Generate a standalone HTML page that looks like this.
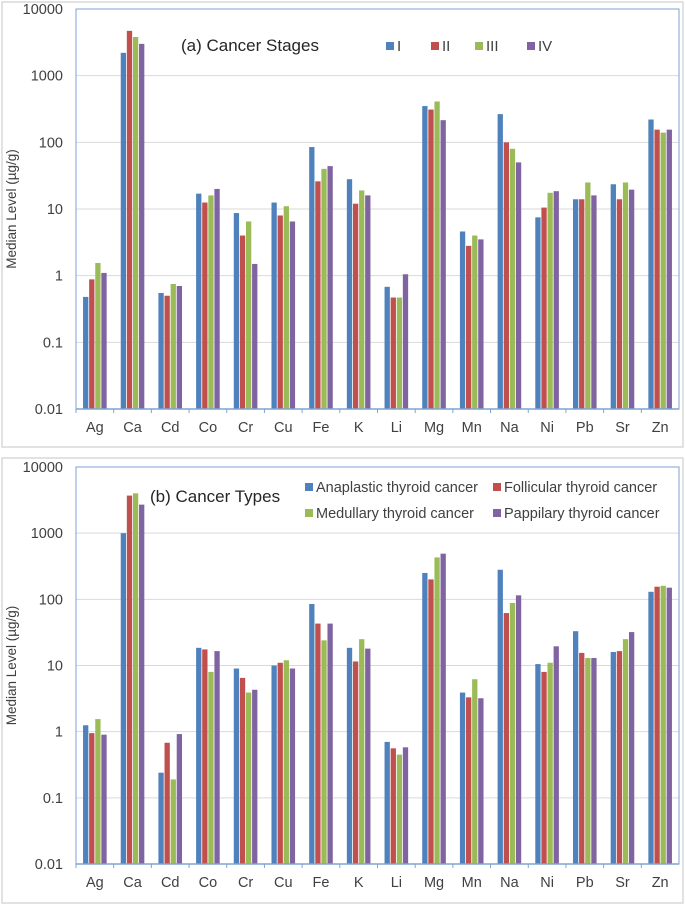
<!DOCTYPE html>
<html><head><meta charset="utf-8"><style>
html,body{margin:0;padding:0;background:#fff;}
svg{display:block;font-family:"Liberation Sans",Arial,sans-serif;}
</style></head><body>
<svg id="chart" width="685" height="905" viewBox="0 0 685 905" xmlns="http://www.w3.org/2000/svg"></svg>
<script>
const categories = ["Ag","Ca","Cd","Co","Cr","Cu","Fe","K","Li","Mg","Mn","Na","Ni","Pb","Sr","Zn"];
const yTicks = [0.01,0.1,1,10,100,1000,10000];
const yTickLabels = ["0.01","0.1","1","10","100","1000","10000"];
const stageNames = ["I","II","III","IV"];
const stageI   = [0.48,2200,0.55,17,8.7,12.5,85,28,0.68,350,4.6,265,7.5,14,23.5,220];
const stageII  = [0.88,4700,0.5,12.5,4,8,26,12,0.47,310,2.8,100,10.5,14,14,155];
const stageIII = [1.55,3800,0.75,16,6.5,11,40,19,0.47,410,4,80,17.5,25,25,140];
const stageIV  = [1.1,3000,0.7,20,1.5,6.5,44,16,1.05,215,3.5,50,18.5,16,19.5,155];
const typeNames = ["Anaplastic thyroid cancer","Follicular thyroid cancer","Medullary thyroid cancer","Pappilary thyroid cancer"];
const anaplastic = [1.25,1000,0.24,18.5,9,10,85,18.5,0.7,250,3.9,280,10.5,33,16,130];
const follicular = [0.95,3700,0.68,17.5,6.5,11,43,11.5,0.56,200,3.3,62,8,15.5,16.5,155];
const medullary  = [1.55,4000,0.19,8,3.9,12,24,25,0.45,430,6.2,88,11,13,25,160];
const papillary  = [0.9,2700,0.92,16.5,4.3,9,43,18,0.58,490,3.2,115,19.5,13,32,150];
const colors = ["#4f81bd","#c0504d","#9bbb59","#8064a2"];

const svg = document.getElementById('chart');
const NS = "http://www.w3.org/2000/svg";
function mk(tag, attrs, parent){const e=document.createElementNS(NS,tag);for(const k in attrs)e.setAttribute(k,attrs[k]);(parent||svg).appendChild(e);return e;}

function panel(p){
  const g = mk('g',{});
  
  
  const frame = mk('rect',{x:p.fx,y:p.fy,width:p.fw,height:p.fh,fill:'#fff',stroke:'#d9d9d9','stroke-width':1.5},g);
  
  
  const L=76, R=679, T=p.top, B=p.bot;
  const yScale = v => B - (Math.log10(v)+2)/6*(B-T);
  const bw = (R-L)/categories.length;
  // gridlines + tick labels
  yTicks.forEach((t,i)=>{
    const y=yScale(t);
    if(i>0 && i<yTicks.length-1){
      const gl=mk('line',{x1:L,x2:R,y1:y,y2:y,stroke:'#d9d9d9','stroke-width':1},g);
      
      
    }
    const tx=mk('text',{x:63,y:y+5,'text-anchor':'end','font-size':14.5,fill:'#404040'},g);
    tx.textContent=yTickLabels[i];
    
    
  });
  const ax=mk('text',{transform:`translate(16,${(T+B)/2}) rotate(-90)`,'text-anchor':'middle','font-size':13.5,fill:'#404040'},g);
  ax.textContent='Median Level  (µg/g)';
  
  
  // bars
  const barW=5.3, gap=0.8;
  p.series.forEach((s,si)=>{
    s.forEach((v,ci)=>{
      const cx=L+bw*(ci+0.5);
      const x=cx-2*(barW+gap)+gap/2+si*(barW+gap);
      const y=yScale(v);
      const r=mk('rect',{x:x,y:y,width:barW,height:B-y,fill:colors[si]},g);
      
      
    });
  });
  // plot border
  const pb=mk('rect',{x:L,y:T,width:R-L,height:B-T,fill:'none',stroke:'#7fa3d1','stroke-width':1},g);
  
  
  const xa=mk('line',{x1:L,x2:R,y1:B,y2:B,stroke:'#7fa3d1','stroke-width':1.5},g);
  
  
  categories.forEach((c,ci)=>{
    const tk=mk('line',{x1:L+bw*ci,x2:L+bw*ci,y1:B,y2:B+4,stroke:'#7fa3d1'},g);
    
    
    const t=mk('text',{x:L+bw*(ci+0.5),y:B+23,'text-anchor':'middle','font-size':14.5,fill:'#404040'},g);
    t.textContent=c;
    
    
  });
  // title
  const tt=mk('text',{x:p.tx,y:p.ty,'font-size':17,fill:'#262626'},g);
  tt.textContent=p.title;
  
  
  // legend
  p.legend.forEach((lg,i)=>{
    const sq=mk('rect',{x:lg[1],y:lg[2]-9,width:8,height:8,fill:colors[i]},g);
    
    
    const lt=mk('text',{x:lg[1]+11,y:lg[2],'font-size':p.lfs,fill:'#404040'},g);
    lt.textContent=lg[0];
    
    
  });
}

panel({id:'panel-a-cancer-stages',fx:2,fy:2,fw:681,fh:445,top:9,bot:409,
  series:[stageI,stageII,stageIII,stageIV],title:'(a) Cancer Stages',tx:181,ty:51,lfs:15,
  legend:[[stageNames[0],386,51],[stageNames[1],431,51],[stageNames[2],475,51],[stageNames[3],527,51]]});
panel({id:'panel-b-cancer-types',fx:2,fy:458,fw:681,fh:445,top:467,bot:864,
  series:[anaplastic,follicular,medullary,papillary],title:'(b) Cancer Types',tx:150,ty:502,lfs:14.5,
  legend:[[typeNames[0],305,492],[typeNames[1],493,492],[typeNames[2],305,518],[typeNames[3],493,518]]});
</script>
</body></html>
